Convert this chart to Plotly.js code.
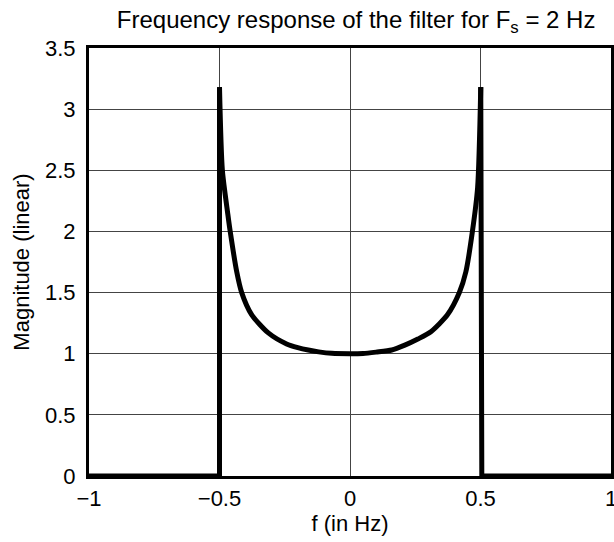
<!DOCTYPE html>
<html>
<head>
<meta charset="utf-8">
<script src="https://cdn.plot.ly/plotly-3.0.1.min.js"></script>
<style>html,body{margin:0;padding:0;background:#fff;}</style>
</head>
<body>
<div id="chart" style="width:614px;height:542px;"></div>
<script>
// Frequency (Hz) and magnitude
const freqHz = [-1, -0.5, -0.5, -0.489, -0.468, -0.459, -0.434, -0.415, -0.377, -0.313, -0.243, -0.2, -0.16, -0.12, -0.07, 0, 0.05, 0.1, 0.16, 0.21, 0.26, 0.31, 0.374, 0.419, 0.444, 0.469, 0.489, 0.501, 0.505, 1];
const magnitude = [0, 0, 3.18, 2.5, 2.14, 2.0, 1.67, 1.5, 1.32, 1.17, 1.08, 1.05, 1.03, 1.015, 1.003, 1.0, 1.002, 1.013, 1.03, 1.07, 1.12, 1.18, 1.32, 1.5, 1.67, 2.0, 2.36, 3.18, 0, 0];
const xTicks = [-1, -0.5, 0, 0.5, 1];
const yTicks = [0, 0.5, 1, 1.5, 2, 2.5, 3, 3.5];

const font = "Liberation Sans, Arial, Helvetica, sans-serif";

// Split the one series into the sharp band edges (straight) and the smooth curve
const iTopL = 2, iTopR = freqHz.length - 3;
const lineStyle = {color: '#000', width: 5};
const traces = [
  {x: freqHz.slice(0, iTopL + 1), y: magnitude.slice(0, iTopL + 1), line: Object.assign({shape: 'linear'}, lineStyle)},
  {x: freqHz.slice(iTopL, iTopR + 1), y: magnitude.slice(iTopL, iTopR + 1), line: Object.assign({shape: 'spline', smoothing: 0.7}, lineStyle)},
  {x: freqHz.slice(iTopR), y: magnitude.slice(iTopR), line: Object.assign({shape: 'linear'}, lineStyle)}
].map(t => Object.assign(t, {type: 'scatter', mode: 'lines', hoverinfo: 'skip'}));

Plotly.newPlot('chart', traces, {
  width: 614,
  height: 542,
  margin: {l: 89, r: 3, t: 48, b: 66},
  paper_bgcolor: '#fff',
  plot_bgcolor: '#fff',
  showlegend: false,
  font: {family: font, color: '#000', size: 22},
  title: {
    text: 'Frequency response of the filter for F<sub>s</sub> = 2 Hz',
    font: {family: font, size: 24, color: '#000'},
    x: 0.58, xanchor: 'center', y: 0.963, yanchor: 'middle'
  },
  xaxis: {
    range: [-1, 1],
    tickvals: xTicks,
    showgrid: true, gridcolor: '#444', gridwidth: 1,
    zeroline: false,
    showline: true, mirror: true, linecolor: '#000', linewidth: 3,
    ticks: 'outside', ticklen: 1, tickcolor: 'rgba(0,0,0,0)',
    ticklabeloverflow: 'allow',
    tickfont: {family: font, size: 22, color: '#000'},
    title: {text: 'f (in Hz)', font: {family: font, size: 22, color: '#000'}, standoff: 5}
  },
  yaxis: {
    range: [0, 3.5],
    tickvals: yTicks,
    showgrid: true, gridcolor: '#444', gridwidth: 1,
    zeroline: false,
    showline: true, mirror: true, linecolor: '#000', linewidth: 3,
    ticks: 'outside', ticklen: 6, tickcolor: 'rgba(0,0,0,0)',
    ticklabeloverflow: 'allow',
    tickfont: {family: font, size: 22, color: '#000'},
    title: {text: 'Magnitude (linear)', font: {family: font, size: 22, color: '#000'}, standoff: 10}
  }
}, {staticPlot: true});
</script>
</body>
</html>
